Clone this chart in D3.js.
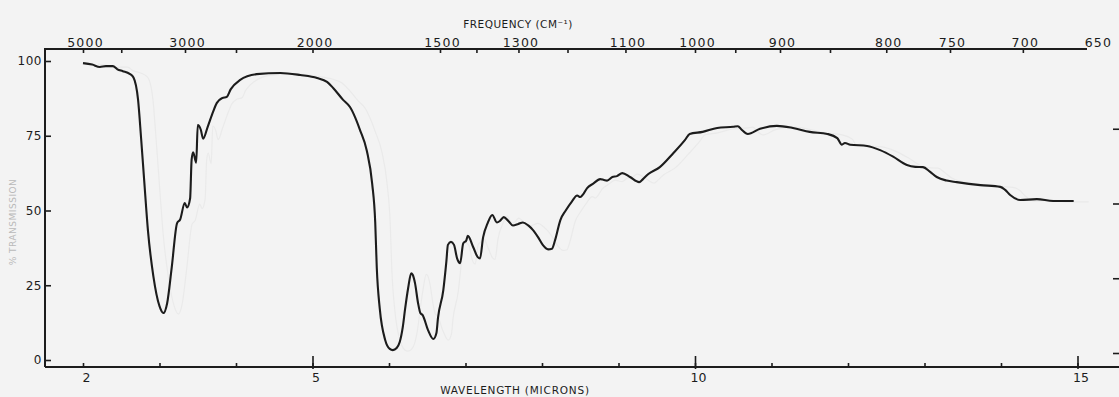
<!DOCTYPE html>
<html>
<head>
<meta charset="utf-8">
<script src="https://cdn.jsdelivr.net/npm/d3@7"></script>
<style>
  body { margin: 0; background: #f3f3f3; }
  svg { display: block; font-family: "DejaVu Sans", sans-serif; }
</style>
</head>
<body>
<script>
// spectrum: wavelength (microns) and % transmission
var wavelength = [2.00,2.12,2.22,2.30,2.39,2.45,2.52,2.61,2.66,2.72,2.76,2.80,2.85,2.92,3.00,3.05,3.10,3.16,3.23,3.27,
  3.33,3.36,3.40,3.42,3.44,3.48,3.50,3.54,3.57,3.63,3.70,3.75,3.82,3.88,3.93,4.05,4.27,4.58,4.84,5.06,
  5.19,5.27,5.40,5.49,5.56,5.62,5.71,5.78,5.82,5.84,5.88,5.95,6.01,6.05,6.10,6.14,6.18,6.21,6.25,6.29,
  6.31,6.34,6.38,6.41,6.44,6.51,6.58,6.62,6.64,6.71,6.75,6.77,6.81,6.85,6.89,6.93,6.97,7.01,7.03,7.10,
  7.16,7.19,7.23,7.29,7.35,7.41,7.45,7.50,7.56,7.62,7.69,7.75,7.82,7.88,7.95,8.01,8.08,8.13,8.17,8.24,
  8.31,8.39,8.46,8.50,8.54,8.59,8.67,8.76,8.81,8.85,8.92,8.98,9.05,9.15,9.27,9.32,9.39,9.54,9.71,9.87,
  9.93,10.10,10.29,10.50,10.56,10.61,10.69,10.85,11.07,11.28,11.50,11.73,11.86,11.92,11.96,12.03,12.25,12.42,12.59,12.77,
  12.88,12.98,13.07,13.16,13.29,13.42,13.73,13.99,14.05,14.12,14.25,14.47,14.68,14.95];
var transmission = [99.3,98.8,98.0,98.3,98.3,97.2,96.6,95.7,94.5,87,74,60,43,28,18,15.7,19,31,45.8,47,
  52.5,51,54,67,69.5,66,78.6,77,74,78,83,86,87.6,88,90.5,93.6,95.6,96,95.3,94.3,
  93,91,87,84.6,81,77,70,59,46,31,17,6.7,3.7,3.3,4,6,11,17,24,29,
  28.5,25.7,19,15.7,15,10,7,9,14,23.4,33,38.5,39.5,38.5,34,32.4,39,40,41.5,37.8,
  34.4,34,41,45.8,48.5,46,46.5,47.8,46.5,45,45.5,46,45,43.5,41,38.5,37,37.2,40,46.8,
  50,53,55,54.5,55.5,57.5,59,60.5,60.2,60,61.2,61.5,62.5,61.2,59.5,60.5,62.2,64.5,69,73.6,
  75.6,76.3,77.6,78,78.2,77,75.6,77.3,78.3,77.6,76.3,75.6,74.2,72,72.6,72,71.6,70.2,68,65.2,
  64.6,64.5,63,61.2,60,59.5,58.5,57.9,57,55.2,53.5,53.8,53.2,53.2];

var freqTicks = [5000,4000,3000,2500,2000,1500,1400,1300,1200,1100,1000,950,900,850,800,750,700];
var freqLabels = [5000,3000,2000,1500,1300,1100,1000,900,800,750,700,650];
var micronTicks = d3.range(2, 16);
var micronMajor = [5,10,15];
var micronLabels = [2,5,10,15];
var yTicks = [0,25,50,75,100];

var W = 1119, H = 397;
var svg = d3.select("body").append("svg").attr("width", W).attr("height", H);
svg.append("rect").attr("width", W).attr("height", H).attr("fill", "#f3f3f3");

var x = d3.scaleLinear().domain([2, 15]).range([83, 1077.5]);
var y = d3.scaleLinear().domain([0, 100]).range([360, 61]);
var ink = "#1c1c1c";

var pts = wavelength.map(function(w, i){ return [w, transmission[i]]; });
var line = d3.line()
  .x(function(d){ return x(d[0]); })
  .y(function(d){ return y(d[1]); })
  .curve(d3.curveMonotoneX);

// faint ghost trace on the paper
svg.append("path").datum(pts)
  .attr("transform", "translate(15,1)")
  .attr("d", line).attr("fill", "none")
  .attr("stroke", "#eaeaea").attr("stroke-width", 1.2);

// frame
var frameTop = 49, frameBottom = 367, frameLeft = 45;
svg.append("path")
  .attr("d", "M" + frameLeft + "," + frameBottom + "V" + frameTop + "H1087")
  .attr("fill", "none").attr("stroke", ink).attr("stroke-width", 2);
svg.append("path")
  .attr("d", "M" + frameLeft + "," + frameBottom + "H" + W)
  .attr("stroke", ink).attr("stroke-width", 2);

function styleAxis(g){
  g.select(".domain").remove();
  g.selectAll(".tick line").attr("stroke", ink).attr("stroke-width", 1.6);
  g.selectAll("text").attr("fill", ink).attr("font-family", "DejaVu Sans");
}

// bottom: wavelength
svg.append("g").attr("transform", "translate(0," + frameBottom + ")")
  .call(d3.axisBottom(x).tickValues(micronTicks).tickSize(-4).tickFormat(""))
  .call(styleAxis);
svg.append("g").attr("transform", "translate(0," + (frameBottom + 2) + ")")
  .call(d3.axisBottom(x).tickValues(micronMajor).tickSize(-13).tickFormat(""))
  .call(styleAxis);
svg.append("g").attr("transform", "translate(0," + frameBottom + ")")
  .call(d3.axisBottom(x).tickValues(micronLabels).tickSize(0).tickPadding(6).tickFormat(d3.format("d")))
  .call(styleAxis)
  .selectAll("text").attr("font-size", 12.5).attr("dx", 3);

// top: frequency
svg.append("g").attr("transform", "translate(0," + frameTop + ")")
  .call(d3.axisTop(x).tickValues(freqTicks.map(function(f){ return 10000 / f; })).tickSize(-4).tickFormat(""))
  .call(styleAxis);
svg.append("g").attr("transform", "translate(0," + frameTop + ")")
  .call(d3.axisTop(x).tickValues(freqLabels.map(function(f){ return 10000 / f; })).tickSize(0).tickPadding(2)
    .tickFormat(function(w){ return d3.format("d")(Math.round(10000 / w)); }))
  .call(styleAxis)
  .selectAll("text").attr("font-size", 12.5).attr("letter-spacing", 1.2)
  .attr("dx", function(w){ return x(w) > 1090 ? -9 : 2; });

// left: % transmission
svg.append("g").attr("transform", "translate(" + frameLeft + ",0)")
  .call(d3.axisLeft(y).tickValues(yTicks).tickSize(-6).tickPadding(3))
  .call(styleAxis)
  .selectAll("text").attr("font-size", 12).attr("letter-spacing", 0.5);

// right edge ticks from the next sheet
svg.append("g").attr("transform", "translate(1119,-7)")
  .call(d3.axisLeft(y).tickValues([0,25,50,75]).tickSize(6).tickFormat(""))
  .call(styleAxis);

// titles
svg.append("text").attr("x", 518).attr("y", 28).attr("text-anchor", "middle")
  .attr("font-size", 10.5).attr("letter-spacing", 0.5).attr("fill", ink)
  .text("FREQUENCY (CM\u207B\u00B9)");
svg.append("text").attr("x", 515).attr("y", 394).attr("text-anchor", "middle")
  .attr("font-size", 10.5).attr("letter-spacing", 0.8).attr("fill", ink)
  .text("WAVELENGTH (MICRONS)");
svg.append("text").attr("transform", "translate(16,222) rotate(-90)")
  .attr("text-anchor", "middle").attr("font-size", 9).attr("letter-spacing", 0.5)
  .attr("fill", "#b9b9b9").text("% TRANSMISSION");

// spectrum
svg.append("path").datum(pts)
  .attr("d", line).attr("fill", "none")
  .attr("stroke", ink).attr("stroke-width", 2.1)
  .attr("stroke-linejoin", "round");
</script>
</body>
</html>
